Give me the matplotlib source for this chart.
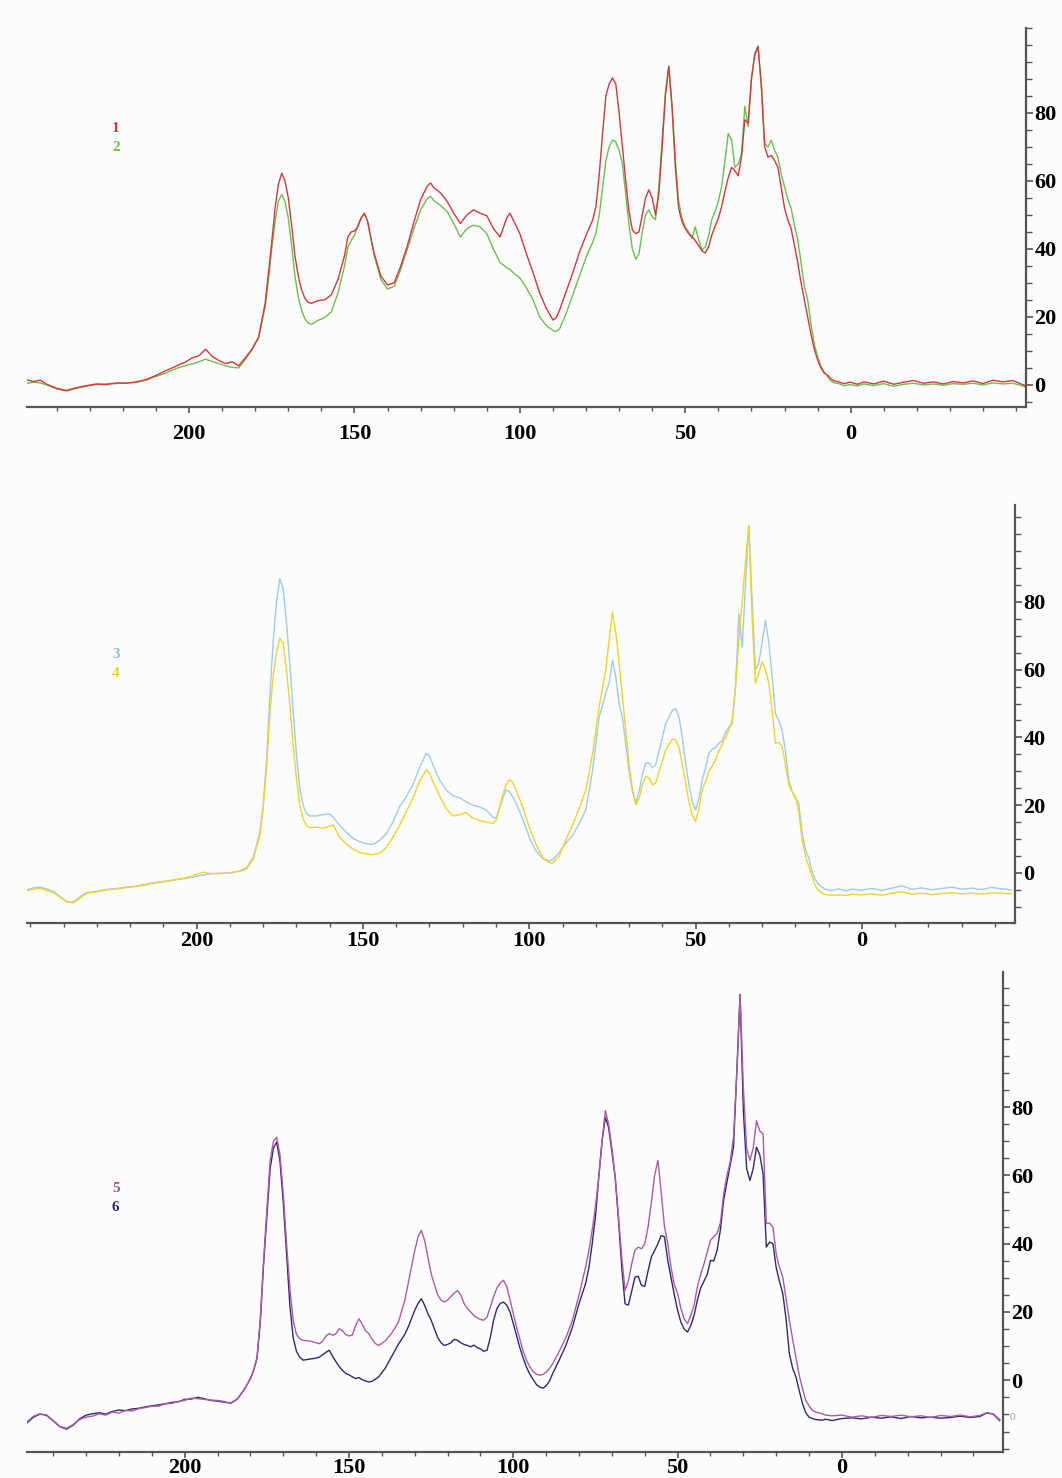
import numpy as np
import matplotlib.pyplot as plt
from matplotlib.ticker import MultipleLocator

# ---- panel 1 : spectra 1 (red) and 2 (green) ----
ppm1 = [249, 247, 245, 243, 240, 237, 234, 231, 228, 225, 222, 219, 216, 213, 210, 207, 204, 201, 199, 197,
        195, 193, 191, 189, 187, 185, 183, 181, 179, 177, 176, 175, 174, 173, 172, 171, 170, 169, 168, 167,
        166, 165, 164, 163, 161, 159, 157, 155, 153, 152, 151, 150, 149, 148, 147, 146, 145, 144, 142, 140,
        138, 136, 134, 132, 130, 128, 127, 126, 124, 122, 120, 118, 116, 114, 112, 110, 108, 106, 104, 103,
        102, 100, 98, 96, 94, 92, 90, 89, 88, 86, 84, 82, 80, 78, 77, 76, 75, 74, 73, 72,
        71, 70, 69, 68, 67, 66, 65, 64, 63, 62, 61, 60, 59, 58, 57, 56, 55, 54, 53, 52,
        51, 50, 49, 48, 47, 46, 45, 44, 43, 42, 41, 40, 39, 38, 37, 36, 35, 34, 33, 32,
        31, 30, 29, 28, 27, 26, 25, 24, 23, 22, 21, 20, 19, 18, 17, 16, 15, 14, 13, 12,
        11, 10, 9, 8, 7, 6, 5, 4, 2, 0, -2, -4, -7, -10, -13, -16, -19, -22, -25, -28,
        -31, -34, -37, -40, -43, -46, -49, -51, -53]
spec1 = [1.5, 1.0, 1.4, 0.2, -1.0, -1.6, -0.8, -0.2, 0.3, 0.1, 0.6, 0.5, 0.9, 1.6, 2.8, 4.2, 5.5, 6.8, 8.0, 8.6,
         10.5, 8.4, 7.2, 6.3, 6.8, 5.6, 8.0, 10.5, 14.0, 24, 33, 42, 52, 59, 62.3, 60, 55, 47, 38, 32,
         28, 25.5, 24.3, 24.0, 24.8, 25.0, 26.5, 31, 38, 43.5, 45.0, 45.3, 46.5, 49.0, 50.5, 48, 43, 38.5, 32, 29.4,
         30.0, 35, 41, 48, 54.5, 58.5, 59.4, 58.0, 56.5, 54.0, 50.5, 47.5, 50.0, 51.5, 50.5, 49.8, 46.0, 43.5, 49.0, 50.5,
         48.5, 44.5, 38.5, 33.0, 27.0, 22.5, 19.1, 19.8, 22.0, 27.5, 33.0, 39.0, 44.0, 48.5, 52.5, 62, 74, 85, 88.5, 90.3,
         88.5, 80, 70, 60, 51, 45.6, 44.5, 45, 50, 55, 57.4, 55, 50.0, 56, 70, 85, 93.7, 82, 64, 52,
         48, 46, 44.5, 43.7, 42.5, 41, 39.5, 38.8, 40.5, 44, 46.6, 49, 52.5, 57, 61, 64, 63, 61.5, 67, 78,
         77, 90, 97, 99.6, 88, 70, 67, 67.5, 66, 64, 58, 52, 48.5, 46, 41, 36, 30, 25, 20, 15,
         10.5, 7.4, 5.0, 3.5, 2.9, 1.8, 1.2, 1.0, 0.4, 0.8, 0.2, 0.9, 0.3, 1.1, 0.2, 0.8, 1.3, 0.5, 0.9, 0.3,
         1.0, 0.6, 1.2, 0.4, 1.4, 0.9, 1.3, 0.5, -0.3]
spec2 = [0.5, 0.8, 0.6, 0.0, -1.2, -1.8, -1.0, -0.4, 0.1, 0.3, 0.4, 0.6, 0.7, 1.4, 2.5, 3.5, 4.8, 5.7, 6.2, 6.8,
         7.6, 6.9, 6.3, 5.6, 5.2, 5.0, 7.5, 10.3, 13.8, 23, 31, 40, 48, 54, 56.0, 54, 49, 41, 32, 26,
         22, 19.5, 18.2, 17.8, 19.0, 19.8, 21.5, 27, 35, 40.5, 42.5, 44, 46.8, 49.2, 50.5, 48, 43, 38, 31, 28.2,
         29.0, 34, 40, 46, 51.5, 54.8, 55.5, 54.2, 52.8, 51.0, 47.5, 43.5, 46.0, 47.0, 46.5, 44.5, 40.0, 36.0, 34.5, 34.0,
         33.0, 31.5, 28.5, 25.0, 20.0, 17.5, 16.0, 15.7, 16.5, 21.0, 26.5, 32.0, 37.5, 42.0, 44.7, 50, 58, 66, 70, 72,
         71.5, 69, 65, 56, 47, 40, 37, 38.5, 45, 50, 51.5, 49.5, 48.6, 58, 72, 86, 93.7, 82, 66, 54,
         49, 46.5, 45, 43.0, 46.5, 43, 39.7, 40.5, 43.5, 48.6, 51, 54, 58.4, 66, 74, 72, 64, 65, 68, 82,
         76, 90, 97.5, 99.6, 88, 71, 70, 72, 69, 67, 62, 58.4, 54.5, 52, 47, 42.7, 36, 29, 25, 18,
         12, 8.3, 5.5, 3.8, 2.5, 1.2, 0.6, 0.5, -0.2, 0.1, -0.3, 0.3, -0.2, 0.4, -0.4, 0.2, 0.5, 0.0, 0.3, -0.1,
         0.4, 0.2, 0.5, 0.0, 0.6, 0.3, 0.5, 0.0, -0.6]

# ---- panel 2 : spectra 3 (light blue) and 4 (yellow) ----
ppm2 = [251, 249, 247, 245, 243, 241, 239, 237, 235, 233, 230, 227, 224, 221, 218, 215, 212, 209, 206, 203,
        200, 198, 196, 193, 190, 187, 185, 183, 181, 180, 179, 178, 177, 176, 175, 174, 173, 172, 171, 170,
        169, 168, 167, 166, 164, 162, 160, 159, 157, 155, 153, 151, 149, 147, 145, 143, 141, 139, 137, 135,
        133, 131, 130, 129, 127, 125, 123, 121, 119, 117, 115, 113, 111, 110, 109, 108, 107, 106, 105, 104,
        102, 100, 98, 96, 94, 93, 91, 89, 87, 85, 83, 81, 79, 77, 76, 75, 74, 73, 72, 71,
        70, 69, 68, 67, 66, 65, 64, 63, 62, 61, 60, 59, 58, 57, 56, 55, 54, 53, 52, 51,
        50, 49, 48, 47, 46, 45, 44, 43, 42, 41, 40, 39, 38, 37, 36, 35, 34, 33, 32, 31,
        30, 29, 28, 27, 26, 25, 24, 23, 22, 21, 20, 19, 18, 17, 16, 15, 14, 13, 12, 11,
        9, 7, 5, 3, 0, -3, -6, -9, -12, -15, -18, -21, -24, -27, -30, -33, -36, -39, -42, -45]
spec3 = [-5.0, -4.4, -4.2, -4.8, -5.5, -7.0, -8.5, -8.6, -7.0, -5.8, -5.4, -4.9, -4.6, -4.2, -3.9, -3.3, -2.8, -2.4, -2.0, -1.6,
         -1.0, -0.6, -0.3, -0.1, 0.0, 0.6, 1.5, 4.5, 12, 20, 33, 52, 68, 80, 86.8, 84, 74, 62, 48, 35,
         25, 20, 17.5, 16.8, 16.8, 17.2, 17.4, 16.5, 14.0, 12.0, 10.2, 9.2, 8.6, 8.4, 9.6, 11.5, 15, 19.5, 22.5, 26,
         31, 35.3, 34.5, 32, 27.5, 24.5, 22.8, 22.2, 21.0, 20.0, 19.5, 18.6, 16.5, 16.0, 19, 22, 24.5, 24.0, 22.5, 20.6,
         16, 10.5, 6.5, 4.2, 3.5, 3.9, 6.0, 8.8, 11, 14.5, 18.6, 30, 46, 53, 56, 62.8, 58, 50, 46, 38,
         30, 24, 20.6, 24, 29, 32.4, 32.5, 31.0, 32, 36, 40, 44, 46, 48, 48.6, 46, 40, 32.4, 26, 21,
         18.6, 22, 27.5, 31, 35.3, 36.5, 37, 38.3, 39, 41.5, 43, 44, 55, 76.5, 66.7, 85, 102.6, 80, 60, 62,
         68, 74.6, 68, 58, 47, 45, 42, 36, 27.5, 24, 22, 20.6, 12, 6.9, 4.5, 0.5, -2.0, -3.5, -4.2, -4.9,
         -5.2, -4.7, -5.3, -4.8, -5.1, -4.6, -5.2, -4.5, -3.8, -4.9, -4.4, -5.0, -4.6, -4.2, -4.8, -4.5, -4.9, -4.3, -4.7, -5.0]
spec4 = [-5.3, -4.8, -4.6, -5.2, -5.8, -7.2, -8.6, -8.8, -7.3, -6.0, -5.6, -5.0, -4.8, -4.3, -4.0, -3.5, -2.9, -2.5, -1.9, -1.4,
         -0.4, 0.2, -0.2, -0.2, -0.1, 0.5, 1.2, 4.0, 11, 19, 31, 47, 58, 65, 69.2, 68, 60, 50, 38, 28,
         20, 16, 14, 13.3, 13.5, 13.2, 13.8, 14.2, 10.5, 8.5, 7.0, 6.0, 5.6, 5.4, 5.8, 7.5, 10.5, 14, 18, 22,
         27, 30.4, 29.5, 27, 22.8, 19, 16.8, 17.2, 17.8, 16.2, 15.5, 15.0, 14.6, 15.5, 19, 23, 26, 27.5, 26.8, 24.5,
         19.5, 13.5, 8.5, 4.5, 3.0, 2.9, 5.0, 9.8, 14, 19, 24.5, 35, 49, 60, 68.7, 77, 71, 62, 52, 42,
         32, 25, 20.0, 22, 26, 28.5, 28, 26.0, 26.5, 30, 33, 36.3, 38, 39.5, 39.3, 37, 32, 26.5, 21, 17,
         15.2, 19, 24.5, 27, 30, 31.5, 33.4, 36, 38, 40, 42.2, 45, 55, 68.7, 80, 92, 102.6, 75, 56, 59,
         62.3, 60, 56, 48, 38.3, 38.5, 37.3, 32, 26, 24, 22.6, 18, 10, 4.9, 2, -1, -3.9, -5.2, -6.0, -6.4,
         -6.6, -6.5, -6.7, -6.3, -6.5, -6.2, -6.6, -6.0, -5.6, -6.3, -6.0, -6.4, -6.1, -5.8, -6.2, -6.0, -6.3, -5.9, -6.0, -6.2]

# ---- panel 3 : spectra 5 (mauve) and 6 (navy) ----
ppm3 = [248, 246, 244, 242, 240, 238, 236, 234, 232, 230, 228, 226, 224, 222, 220, 218, 216, 214, 212, 210,
        208, 206, 204, 202, 200, 198, 196, 194, 192, 190, 188, 186, 184, 182, 180, 179, 178, 177, 176, 175,
        174, 173, 172, 171, 170, 169, 168, 167, 166, 165, 164, 162, 160, 159, 158, 157, 156, 155, 154, 153,
        152, 151, 150, 149, 148, 147, 146, 145, 144, 143, 142, 141, 139, 137, 135, 133, 132, 131, 130, 129,
        128, 127, 126, 125, 124, 123, 122, 121, 120, 119, 118, 117, 116, 115, 114, 113, 112, 111, 110, 109,
        108, 107, 106, 105, 104, 103, 102, 101, 100, 99, 98, 97, 96, 95, 94, 93, 92, 91, 90, 89,
        88, 86, 84, 82, 80, 78, 77, 76, 75, 74, 73, 72, 71, 70, 69, 68, 67, 66, 65, 64,
        63, 62, 61, 60, 59, 58, 57, 56, 55, 54, 53, 52, 51, 50, 49, 48, 47, 46, 45, 44,
        43, 42, 41, 40, 39, 38, 37, 36, 35, 34, 33, 32, 31, 30, 29, 28, 27, 26, 25, 24,
        23, 22, 21, 20, 19, 18, 17, 16, 15, 14, 13, 12, 11, 10, 9, 8, 6, 5, 3, 0,
        -3, -6, -9, -12, -15, -18, -21, -24, -27, -30, -33, -36, -39, -42, -44, -46, -48]
spec5 = [-12.2, -10.5, -9.8, -10.4, -11.8, -13.5, -14.1, -13.0, -11.5, -10.8, -10.5, -9.8, -10.2, -9.3, -9.6, -8.8, -9.0, -8.3, -8.0, -7.6,
         -7.6, -6.9, -6.8, -6.2, -5.9, -5.2, -5.4, -5.6, -5.8, -5.9, -6.2, -6.8, -5.5, -2.9, 0.5, 3.0, 6.5, 18, 35, 50,
         64.4, 70, 71.2, 66, 54.6, 40, 27, 17.6, 13.5, 12.2, 11.7, 11.5, 11.0, 10.7, 11.5, 13.0, 13.7, 13.2, 13.6, 15.1,
         14.5, 13.4, 13.0, 13.2, 16.0, 18.0, 16.5, 14.5, 13.7, 12.0, 10.8, 10.2, 11.5, 13.8, 17.0, 23.5, 28.3, 33, 38, 42,
         43.9, 41, 36, 31.2, 28, 25, 23.5, 22.9, 23.5, 24.5, 25.5, 26.3, 25.0, 22.5, 21.0, 20.0, 19.0, 18.3, 17.8, 17.6,
         18.5, 21.5, 24.5, 27, 28.5, 29.3, 27.5, 23.5, 19.5, 15.5, 12, 8.5, 5.9, 4.0, 2.6, 1.8, 1.5, 1.7, 2.4, 3.5,
         4.9, 8.5, 12.5, 17.6, 25.0, 33.2, 38, 44, 51, 59.5, 70, 79, 75, 68, 59.5, 48, 36, 26.3, 29, 34,
         38, 39, 38.5, 40, 44.9, 52, 60, 64.4, 55, 45, 40, 33, 28, 25.4, 21, 18, 16.6, 19, 22, 27.3,
         31, 34, 37.5, 41, 42, 43, 46, 54.6, 60, 64, 71.2, 90, 113, 85.9, 68, 64.4, 68, 76, 73, 72.2,
         45.9, 46, 44.9, 37, 33, 30.2, 24, 17.6, 12, 6.8, 1.5, -2.5, -5.9, -7.5, -8.8, -9.3, -9.8, -10.2, -10.4, -10.2,
         -10.8, -10.4, -10.9, -10.3, -10.6, -10.2, -10.7, -10.4, -10.9, -10.3, -10.6, -10.2, -10.7, -10.3, -9.5, -9.8, -11.5]
spec6 = [-12.5, -10.8, -9.9, -10.2, -11.9, -13.6, -14.3, -13.2, -11.3, -10.2, -9.8, -9.5, -9.9, -9.1, -8.7, -8.9, -8.4, -8.2, -7.8, -7.5,
         -7.2, -6.9, -6.5, -6.3, -5.6, -5.5, -5.0, -5.4, -5.9, -6.1, -6.4, -6.7, -5.5, -2.9, 0.5, 3.0, 6.5, 17, 34, 48,
         62, 68, 69.8, 64, 52, 37, 22, 12.5, 8.5, 6.8, 5.9, 6.2, 6.5, 6.8, 7.5, 8.2, 8.8, 7.0, 5.5, 4.0,
         2.9, 2.0, 1.6, 1.0, 0.5, 0.8, 0.2, -0.2, -0.5, -0.3, 0.3, 1.0, 3.5, 7.0, 10.5, 13.5, 15.6, 18, 20.5, 22.5,
         23.9, 22, 19.5, 17.6, 15, 12.5, 11, 10.2, 10.5, 11.0, 12.0, 11.7, 11.0, 10.5, 10.2, 9.8, 10.3, 9.6, 9.2, 8.5,
         8.8, 12.5, 17.6, 21, 22.5, 22.9, 22, 20, 16.6, 13, 9.5, 6.5, 3.9, 1.8, 0.3, -1.2, -2.0, -2.3, -1.6, -0.2,
         2.0, 6.0, 10.2, 15.6, 22.5, 28.3, 33, 40, 48, 59.5, 70, 77, 74, 67, 59.5, 47, 33, 22.4, 22.0, 26,
         30.2, 30.5, 27.8, 27.5, 32, 36.1, 38, 40, 42.4, 42, 35.1, 30, 25, 20.5, 17, 15, 14.1, 16, 19, 23.4,
         27, 29, 31, 35.1, 35, 38, 44, 52.7, 58, 63, 68.3, 90, 113, 79, 62, 58.5, 62, 68.3, 66, 60.5,
         39, 40.5, 40, 33, 29, 25.4, 18, 7.8, 3.5, 1.0, -3.0, -6.8, -9.5, -10.8, -11.2, -11.5, -11.7, -11.4, -11.8, -11.2,
         -11.0, -11.3, -10.8, -11.1, -10.7, -11.2, -10.6, -11.0, -10.8, -11.1, -10.9, -10.5, -10.9, -10.6, -9.6, -9.9, -11.8]

x_major = [200, 150, 100, 50, 0]
y_major = [0, 20, 40, 60, 80]

panels = [
    # ppm, series, line colours, numbers, number colours, xlim, ylim, axes rect, number y, x label pad
    (ppm1, (spec2, spec1), ("#6cbf4f", "#d8363c"), ("1", "2"), ("#d8363c", "#6cbf4f"),
     (249, -53), (-6.5, 105), [0.0254, 0.7246, 0.9407, 0.2565], (0.913, 0.900), 8),
    (ppm2, (spec3, spec4), ("#9ecbee", "#f3d22c"), ("3", "4"), ("#8fbde6", "#f0cc22"),
     (251, -46), (-14.8, 108.6), [0.0254, 0.3755, 0.9303, 0.2828], (0.557, 0.544), 2),
    (ppm3, (spec6, spec5), ("#2c2a72", "#ad5aa8"), ("5", "6"), ("#a8509e", "#2c2a72"),
     (248, -49), (-21, 119.6), [0.0254, 0.0176, 0.9190, 0.3248], (0.196, 0.183), 0),
]

fig = plt.figure(figsize=(10.62, 14.78), dpi=100)
fig.patch.set_facecolor("#fcfcfc")

for ppm, series, cols, labs, labcols, xl, yl, rect, laby, xpad in panels:
    ax = fig.add_axes(rect)
    ax.set_facecolor("#fcfcfc")
    for s, c in zip(series, cols):
        ax.plot(ppm, s, color=c, lw=1.0)
    ax.set_xlim(*xl)
    ax.set_ylim(*yl)

    for side in ("left", "top"):
        ax.spines[side].set_visible(False)
    for side in ("bottom", "right"):
        ax.spines[side].set_color("#555555")
        ax.spines[side].set_linewidth(1.6)

    ax.yaxis.tick_right()
    ax.set_xticks(x_major)
    ax.set_yticks(y_major)
    ax.xaxis.set_minor_locator(MultipleLocator(10))
    ax.yaxis.set_minor_locator(MultipleLocator(5))
    ax.tick_params(axis="both", which="both", color="#555555", direction="out")
    ax.tick_params(axis="x", which="major", length=4, width=1.2, pad=xpad)
    ax.tick_params(axis="x", which="minor", length=3, width=1.0)
    ax.tick_params(axis="y", which="major", length=5, width=1.2, pad=1)
    ax.tick_params(axis="y", which="minor", length=4, width=1.0)
    for t in ax.get_xticklabels():
        t.set_fontfamily("Liberation Serif")
        t.set_fontweight("bold")
        t.set_fontsize(16)
    for t in ax.get_yticklabels():
        t.set_fontfamily("Liberation Serif")
        t.set_fontweight("bold")
        t.set_fontsize(16)

    # series numbers
    for lab, lc, yy in zip(labs, labcols, laby):
        fig.text(0.109, yy, lab, color=lc, fontsize=11, fontweight="bold",
                 family="Liberation Serif", ha="center", va="center")

# small grey zero marker beside the bottom baseline
fig.text(1012 / 1062, 1 - 1417 / 1478, "0", color="#999999", fontsize=8,
         family="Liberation Serif", ha="center", va="center")

fig.savefig("out.png", dpi=100, facecolor=fig.get_facecolor())
